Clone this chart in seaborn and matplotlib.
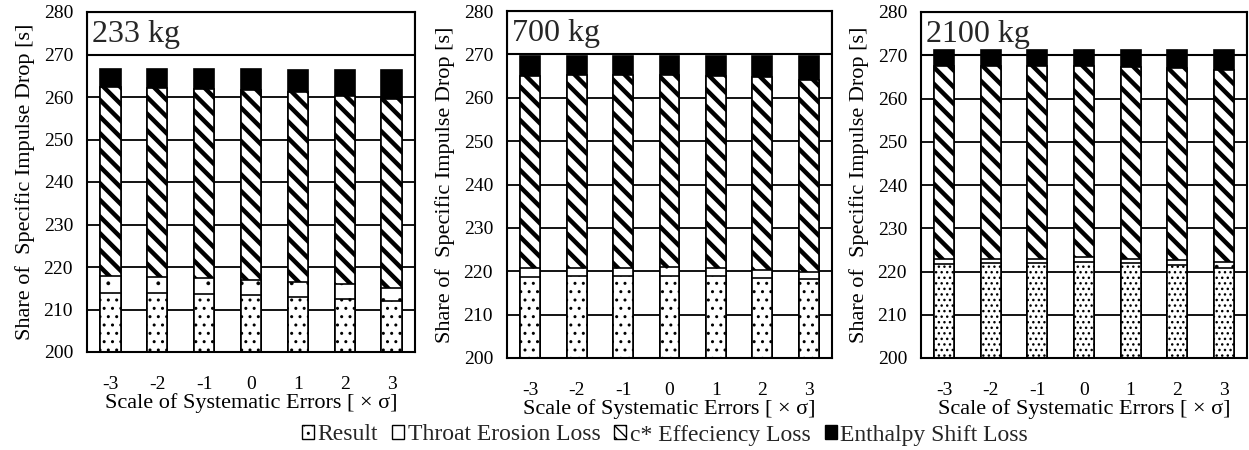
import numpy as np
import pandas as pd
import matplotlib
matplotlib.use("Agg")
import matplotlib.pyplot as plt
import seaborn as sns
from matplotlib.patches import Rectangle, Patch

# ---------------- data ----------------
scales = ["-3", "-2", "-1", "0", "1", "2", "3"]
masses = ["233 kg", "700 kg", "2100 kg"]
series_names = ["Result", "Throat Erosion Loss", "c* Effeciency Loss", "Enthalpy Shift Loss"]

result_233 = [214.0, 213.8, 213.6, 213.5, 213.0, 212.5, 211.9]
throat_233 = [3.8, 3.8, 3.7, 3.5, 3.5, 3.4, 3.1]
cstar_233 = [44.5, 44.5, 44.7, 44.7, 44.6, 44.4, 44.5]
enthalpy_233 = [4.4, 4.5, 4.6, 4.9, 5.3, 6.1, 6.9]

result_700 = [218.7, 218.8, 218.8, 218.9, 218.8, 218.5, 218.1]
throat_700 = [2.1, 2.0, 2.0, 2.0, 2.0, 1.8, 1.8]
cstar_700 = [44.2, 44.4, 44.5, 44.4, 44.3, 44.4, 44.3]
enthalpy_700 = [4.6, 4.4, 4.3, 4.3, 4.5, 4.9, 5.4]

result_2100 = [221.7, 221.9, 221.9, 222.1, 221.9, 221.6, 220.9]
throat_2100 = [1.1, 1.1, 1.1, 1.3, 1.1, 1.0, 1.2]
cstar_2100 = [44.7, 44.5, 44.4, 44.0, 44.3, 44.4, 44.6]
enthalpy_2100 = [3.8, 3.8, 3.9, 3.9, 4.0, 4.3, 4.6]

panels = [
    (result_233, throat_233, cstar_233, enthalpy_233),
    (result_700, throat_700, cstar_700, enthalpy_700),
    (result_2100, throat_2100, cstar_2100, enthalpy_2100),
]

# ---------------- style ----------------
sns.set_style("white")
plt.rcParams["font.family"] = ["Liberation Serif", "DejaVu Serif"]

fig = plt.figure(figsize=(12.49, 4.5), dpi=100)
W, H = 1249, 450
boxes = [(87, 415, 12, 352), (507, 832, 11, 358), (921, 1247, 12, 358)]
result_hatch = ["..", "..", "..."]

layer_styles = [
    # (facecolor, hatch, hatch linewidth)
    ("black", None, 1.0),        # enthalpy (top)
    ("white", "\\\\", 3.2),      # c*
    ("white", ".", 0.3),         # throat
    ("white", "..", 1.0),        # result
]

for i, (data, (l, r, t, b)) in enumerate(zip(panels, boxes)):
    ax = fig.add_axes([l / W, 1 - b / H, (r - l) / W, (b - t) / H])
    res, thr, cst, ent = [np.asarray(v) for v in data]
    c_res = res
    c_thr = res + thr
    c_cst = c_thr + cst
    c_ent = c_cst + ent
    cums = [c_ent, c_cst, c_thr, c_res]

    # title box (behind bars)
    ax.add_patch(Rectangle((-0.5, 270), 7, 10, facecolor="white", edgecolor="black",
                           linewidth=1.5, zorder=1.5))

    for k, (cum, (fc, hatch, hlw)) in enumerate(zip(cums, layer_styles)):
        if k == 3:
            hatch = result_hatch[i]
        plt.rcParams["hatch.linewidth"] = hlw
        df = pd.DataFrame({"scale": scales, "value": cum})
        n_before = len(ax.patches)
        sns.barplot(data=df, x="scale", y="value", order=scales, ax=ax, color=fc,
                    saturation=1, edgecolor="black", linewidth=1.2, width=0.43,
                    errorbar=None, hatch=hatch, zorder=2 + k * 0.1)
        for p in ax.patches[n_before:]:
            if hasattr(p, "set_hatch_linewidth"):
                p.set_hatch_linewidth(hlw)

    ax.set_ylim(200, 280)
    ax.set_xlim(-0.5, 6.5)
    ax.set_yticks(np.arange(200, 281, 10))
    ax.yaxis.grid(True, color="black", linewidth=1.3, zorder=0)
    ax.xaxis.grid(False)
    ax.set_axisbelow(True)
    for s in ax.spines.values():
        s.set_visible(True)
        s.set_color("black")
        s.set_linewidth(1.5)
    ax.tick_params(axis="y", length=0, pad=10, labelsize=14, colors="black")
    ax.tick_params(axis="x", length=0, pad=17, labelsize=14, colors="black")
    ax.set_xlabel("Scale of Systematic Errors [ × σ]", fontsize=16, labelpad=0, color="black")
    ax.set_ylabel("Share of  Specific Impulse Drop [s]", fontsize=16, labelpad=6, color="black")
    ax.text(0.015, 0.935, masses[i], transform=ax.transAxes, fontsize=23,
            va="center", ha="left", zorder=5)

plt.rcParams["hatch.linewidth"] = 1.0
handles = [
    Patch(facecolor="white", edgecolor="black", hatch="..", label=series_names[0]),
    Patch(facecolor="white", edgecolor="black", label=series_names[1]),
    Patch(facecolor="white", edgecolor="black", hatch="\\\\\\", label=series_names[2]),
    Patch(facecolor="black", edgecolor="black", label=series_names[3]),
]
fig.legend(handles=handles, loc="center", bbox_to_anchor=(665 / W, 1 - 435 / H), ncol=4,
           frameon=False, fontsize=17, handlelength=0.5, handleheight=0.5,
           handletextpad=0.15, columnspacing=0.6, borderpad=0)

fig.savefig("out.png", dpi=100)
